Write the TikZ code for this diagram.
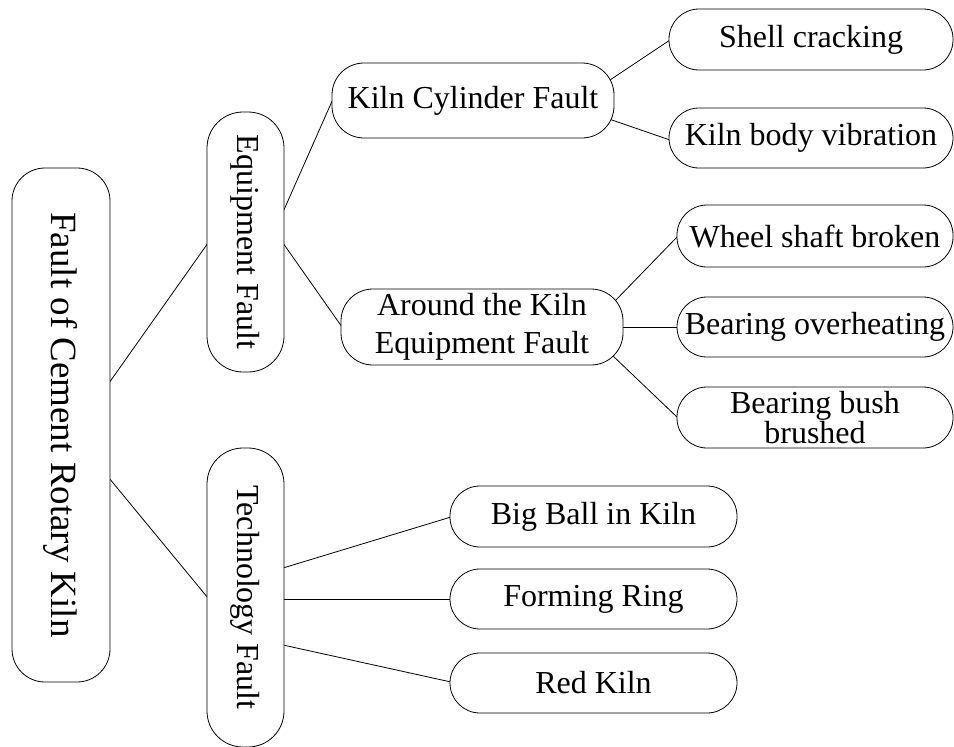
\documentclass[tikz,border=0pt]{standalone}
\usepackage{fontspec}
\setmainfont{Liberation Serif}
\usetikzlibrary{calc,backgrounds}
\begin{document}
\begin{tikzpicture}[x=1pt,y=-1pt,
  box/.style={draw, fill=white, line width=0.8pt, inner sep=0pt, align=center,
    font=\fontsize{32pt}{37pt}\selectfont},
  hbox/.style={box, rounded corners=30pt},
  vbox/.style={box, rotate=-90, minimum height=77pt, rounded corners=36pt},
  conn/.style={line width=0.8pt}]
\useasboundingbox (0,0) rectangle (954,747);
% root
\node[box, rotate=-90, minimum width=514pt, minimum height=98pt, rounded corners=33pt,
  font=\fontsize{37pt}{40pt}\selectfont] (root) at (61,425) {Fault of Cement Rotary Kiln};
% level 1
\node[vbox, minimum width=260pt] (eq) at (245.5,242) {Equipment Fault};
\node[vbox, minimum width=299pt] (tech) at (245.5,597.5) {Technology Fault};
% level 2
\node[hbox, minimum width=282pt, minimum height=75pt, rounded corners=32pt] (kc) at (473,100.5) {Kiln Cylinder Fault};
\node[hbox, minimum width=282pt, minimum height=76pt, rounded corners=32pt,
  font=\fontsize{32pt}{38pt}\selectfont] (ar) at (482,327) {Around the Kiln\\Equipment Fault};
% level 3
\node[hbox, minimum width=284pt, minimum height=61pt] (sc) at (811,39.5) {Shell cracking};
\node[hbox, minimum width=284pt, minimum height=60pt] (kb) at (811,138) {Kiln body vibration};
\node[hbox, minimum width=276pt, minimum height=62pt] (ws) at (815,236) {Wheel shaft broken};
\node[hbox, minimum width=276pt, minimum height=60pt] (bo) at (815,327) {Bearing overheating};
\node[hbox, minimum width=276pt, minimum height=61pt,
  font=\fontsize{32pt}{29pt}\selectfont] (bb) at (815,417.5) {Bearing bush\\brushed};
\node[hbox, minimum width=287pt, minimum height=61pt] (bg) at (593.5,516.5) {Big Ball in Kiln};
\node[hbox, minimum width=287pt, minimum height=60pt] (fr) at (593.5,599) {Forming Ring};
\node[hbox, minimum width=287pt, minimum height=60pt] (rk) at (593.5,683) {Red Kiln};
% connectors
\begin{pgfonlayer}{background}
\draw[conn] ($(root)+(48,-42)$) -- ($(eq)+(-37.5,1)$);
\draw[conn] ($(root)+(48,53)$) -- ($(tech)+(-37.5,0.5)$);
\draw[conn] ($(eq)+(37.5,-30)$) -- ($(kc)+(-140,-1.5)$);
\draw[conn] ($(eq)+(37.5,1)$) -- ($(ar)+(-140,0)$);
\draw[conn] ($(kc)+(134,-18.5)$) -- ($(sc)+(-141,0.5)$);
\draw[conn] ($(kc)+(136,18.5)$) -- ($(kb)+(-141,2)$);
\draw[conn] ($(ar)+(132,-25)$) -- ($(ws)+(-137,0)$);
\draw[conn] ($(ar)+(140,0)$) -- ($(bo)+(-137,0)$);
\draw[conn] ($(ar)+(130,28)$) -- ($(bb)+(-137,0.5)$);
\draw[conn] ($(tech)+(37.5,-29.5)$) -- ($(bg)+(-142.5,0.5)$);
\draw[conn] ($(tech)+(37.5,1.5)$) -- ($(fr)+(-142.5,0)$);
\draw[conn] ($(tech)+(37.5,47.5)$) -- ($(rk)+(-142.5,-1)$);
\end{pgfonlayer}
\end{tikzpicture}
\end{document}
